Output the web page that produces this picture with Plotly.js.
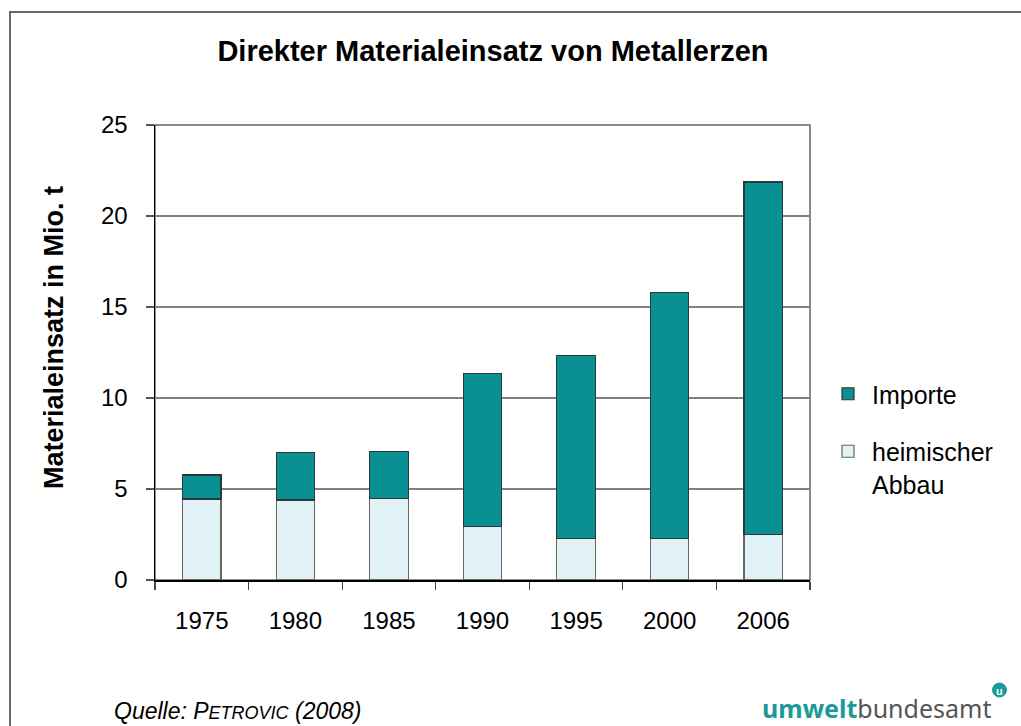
<!DOCTYPE html>
<html>
<head>
<meta charset="utf-8">
<script src="https://cdn.plot.ly/plotly-3.0.1.min.js"></script>
<style>html,body{margin:0;padding:0;background:#fff;}#chart{width:1021px;height:726px;}</style>
</head>
<body>
<div id="chart"></div>
<script>
const years = ["1975", "1980", "1985", "1990", "1995", "2000", "2006"];
const heimischerAbbau = [4.45, 4.4, 4.47, 2.93, 2.29, 2.29, 2.49];
const importe = [1.32, 2.6, 2.58, 8.43, 10.06, 13.51, 19.38];
const yTicks = [0, 5, 10, 15, 20, 25];

const FONT = '"Liberation Sans", Arial, sans-serif';
const L = 155, R = 810, T = 125, B = 580;
const px = x => (x - L) / (R - L);
const py = y => (B - y) / (B - T);

const traces = [
  {
    type: 'bar', name: 'heimischer<br>Abbau', x: years, y: heimischerAbbau, legendgroup: 'h', legendrank: 2,
    marker: {color: '#E1F2F6', line: {color: '#666666', width: 1.2}},
    showlegend: true, hoverinfo: 'x+y'
  },
  {
    type: 'bar', name: 'Importe', x: years, y: importe, legendgroup: 'i', legendrank: 1,
    marker: {color: '#0A9093', line: {color: '#2a3a3a', width: 1.2}},
    hoverinfo: 'x+y'
  }
];

const layout = {
  width: 1021, height: 726,
  margin: {l: L, r: 1021 - R, t: T, b: 726 - B, pad: 0},
  paper_bgcolor: '#ffffff', plot_bgcolor: '#ffffff',
  font: {family: FONT, color: '#000000', size: 24},
  barmode: 'stack', bargap: 0.59,
  title: {
    text: '<b>Direkter Materialeinsatz von Metallerzen</b>',
    font: {family: FONT, size: 29, color: '#000'},
    xref: 'paper', x: px(493), xanchor: 'center',
    yref: 'container', y: 1 - 51 / 726, yanchor: 'middle'
  },
  xaxis: {
    type: 'category', tickson: 'boundaries', ticks: 'outside', ticklen: 8, tickwidth: 1.2,
    tickcolor: '#444', showgrid: false, showline: true, linecolor: '#000', linewidth: 2,
    tickfont: {family: FONT, size: 24, color: '#000'}, ticklabelstandoff: 18,
    fixedrange: true
  },
  yaxis: {
    range: [0, 25], tickvals: yTicks, ticktext: yTicks.map(String),
    ticks: 'outside', ticklen: 8, tickwidth: 1.2, tickcolor: '#555',
    showgrid: true, gridcolor: '#808080', gridwidth: 1.2, zeroline: false,
    showline: true, linecolor: '#000', linewidth: 1.5,
    tickfont: {family: FONT, size: 24, color: '#000'}, ticklabelstandoff: 13,
    fixedrange: true
  },
  legend: {
    x: px(824), xanchor: 'left', y: py(371), yanchor: 'top', valign: 'top',
    traceorder: 'grouped', font: {family: FONT, size: 25, color: '#000'},
    bgcolor: 'rgba(0,0,0,0)', tracegroupgap: 22, itemwidth: 38
  },
  shapes: [
    {type: 'rect', xref: 'paper', yref: 'paper', x0: 0, x1: 1, y0: 0, y1: 1,
     line: {color: '#666666', width: 1.5}, layer: 'below'},
    {type: 'rect', xref: 'paper', yref: 'paper', x0: px(10), x1: px(1040), y0: py(760), y1: py(12),
     line: {color: '#666666', width: 2}, layer: 'below'},
    {type: 'circle', xref: 'paper', yref: 'paper', x0: px(992.5), x1: px(1006.5), y0: py(697), y1: py(683),
     fillcolor: '#1A9A98', line: {color: '#1A9A98', width: 1}}
  ],
  annotations: [
    {xref: 'paper', yref: 'paper', x: px(54), y: py(338), xanchor: 'center', yanchor: 'middle', showarrow: false,
     textangle: -90, text: '<b>Materialeinsatz in Mio. t</b>', font: {family: FONT, size: 27, color: '#000'}},
    {xref: 'paper', yref: 'paper', x: px(112), y: py(711), xanchor: 'left', yanchor: 'middle', showarrow: false,
     text: '<i>Quelle: P<span style="font-size:18px">ETROVIC</span> (2008)</i>',
     font: {family: FONT, size: 23, color: '#000'}},
    {xref: 'paper', yref: 'paper', x: px(993), y: py(708), xanchor: 'right', yanchor: 'middle', showarrow: false,
     text: '<b><span style="color:#1A9A98">umwelt</span></b><span style="color:#555555">bundesamt</span>',
     font: {family: '"Noto Sans", "Open Sans", sans-serif', size: 25, color: '#555'}},
    {xref: 'paper', yref: 'paper', x: px(999.5), y: py(690.5), xanchor: 'center', yanchor: 'middle', showarrow: false,
     text: '<b>u</b>', font: {family: FONT, size: 11, color: '#ffffff'}}
  ]
};

Plotly.newPlot('chart', traces, layout, {displayModeBar: false, staticPlot: true});
</script>
</body>
</html>
